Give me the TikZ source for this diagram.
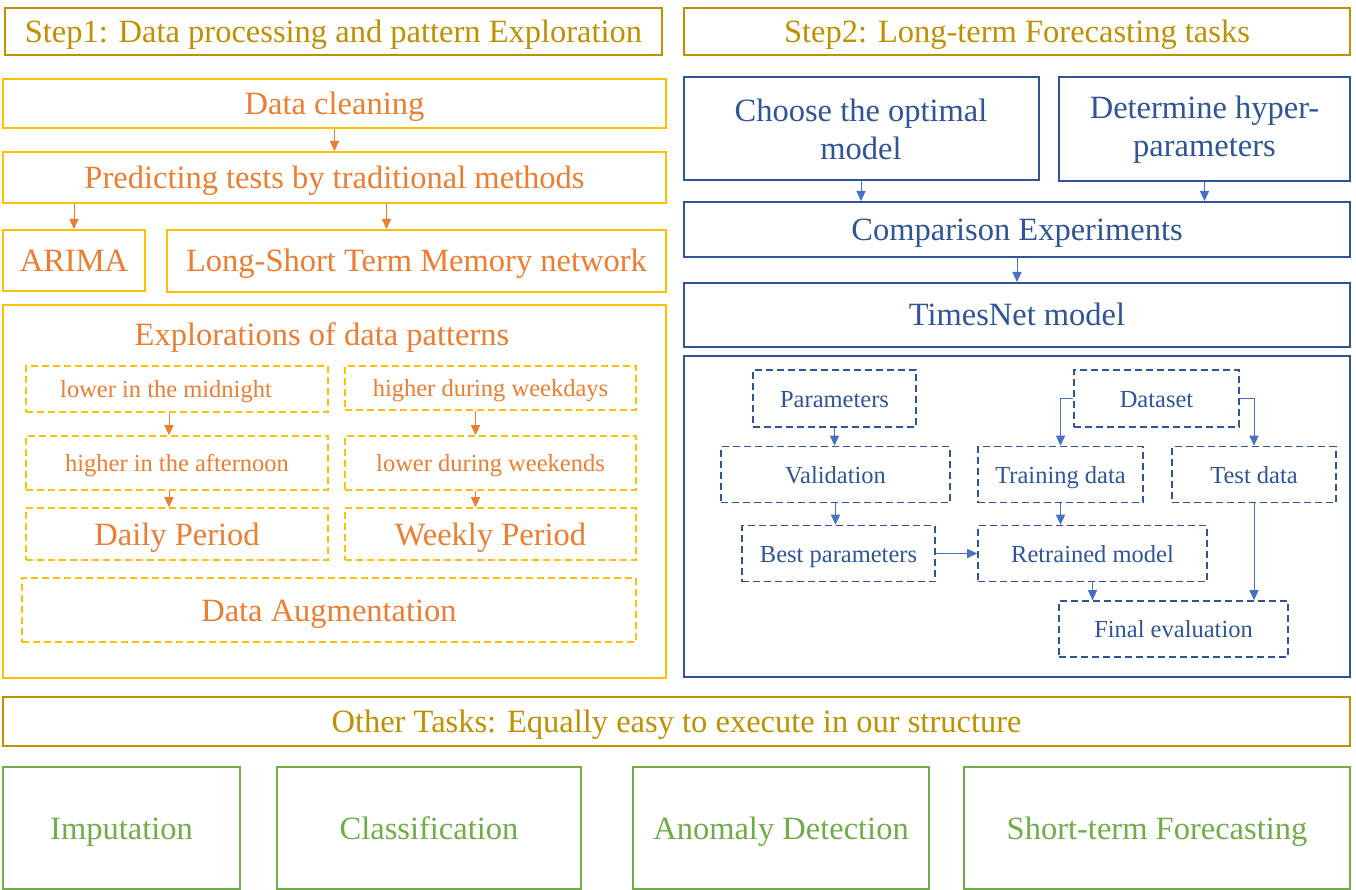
\documentclass[tikz,border=0pt]{standalone}
\usepackage{fontspec}
\setmainfont{Liberation Serif}
\usetikzlibrary{arrows.meta}
\definecolor{gold}{HTML}{BF9000}
\definecolor{orng}{HTML}{ED7D31}
\definecolor{yel}{HTML}{FFC000}
\definecolor{dblue}{HTML}{2F5597}
\definecolor{lblue}{HTML}{4472C4}
\definecolor{grn}{HTML}{70AD47}
\begin{document}
\begin{tikzpicture}[x=1pt,y=-1pt,
  bigfont/.style={font=\fontsize{32.5}{38}\selectfont},
  big/.style={bigfont, text height=28pt, text depth=6pt},
  small/.style={font=\fontsize{24.5}{30}\selectfont, text height=22pt, text depth=5pt},
  box/.style={draw, rectangle, line width=2pt, inner sep=0pt, align=center},
  titlebox/.style={box, draw=gold, text=gold, big},
  obox/.style={box, draw=yel, text=orng, big},
  odash/.style={box, draw=yel, text=orng, line width=1.6pt, dash pattern=on 7pt off 4pt},
  bbox/.style={box, draw=dblue, text=dblue, big},
  bbox2/.style={box, draw=dblue, text=dblue, bigfont},
  bdash/.style={box, draw=dblue, text=dblue, small, line width=1.6pt, dash pattern=on 7pt off 4pt},
  gbox/.style={box, draw=grn, text=grn, big},
  oarr/.style={draw=orng, line width=1pt, -{Triangle[length=10pt,width=9pt]}},
  barr/.style={draw=lblue, line width=1pt, -{Triangle[length=10pt,width=9pt]}},
]
\fill[white] (0,0) rectangle (1356,890);
\useasboundingbox (0,0) rectangle (1356,890);

% ---------- titles ----------
\node[titlebox, minimum width=657, minimum height=47] (t1) at (333.5,31.5) {Step1: Data processing and pattern Exploration};
\node[titlebox, minimum width=666, minimum height=47] (t2) at (1017,31.5) {Step2: Long-term Forecasting tasks};

% ---------- left column ----------
\node[obox, minimum width=663, minimum height=49] (clean) at (334.5,103.5) {Data cleaning};
\node[obox, minimum width=663, minimum height=51] (pred) at (334.5,177.5) {Predicting tests by traditional methods};
\node[obox, minimum width=142, minimum height=61] (arima) at (74,260.5) {ARIMA};
\node[obox, minimum width=499, minimum height=62] (lstm) at (416.5,261) {Long-Short Term Memory network};

\node[box, draw=yel, minimum width=663, minimum height=373] (explbox) at (334.5,491.5) {};
\node[text=orng, big, inner sep=0pt] (expltitle) at (322,334) {Explorations of data patterns};

\node[odash, small, minimum width=302, minimum height=46] (d1) at (177,389) {\hspace*{-22pt}lower in the midnight};
\node[odash, small, minimum width=291, minimum height=44] (d2) at (490.5,388) {higher during weekdays};
\node[odash, small, minimum width=302, minimum height=54] (d3) at (177,463) {higher in the afternoon};
\node[odash, small, minimum width=291, minimum height=54] (d4) at (490.5,463) {lower during weekends};
\node[odash, big, minimum width=302, minimum height=52] (d5) at (177,534) {Daily Period};
\node[odash, big, minimum width=291, minimum height=52] (d6) at (490.5,534) {Weekly Period};
\node[odash, big, minimum width=614, minimum height=64] (d7) at (329,610) {Data Augmentation};

\draw[oarr] (clean.south) -- (pred.north);
\draw[oarr] (arima.north |- pred.south) -- (arima.north);
\draw[oarr] ([xshift=-30pt]lstm.north |- pred.south) -- ([xshift=-30pt]lstm.north);
\draw[oarr] ([xshift=-8pt]d1.south) -- ([xshift=-8pt]d3.north);
\draw[oarr] ([xshift=-8pt]d3.south) -- ([xshift=-8pt]d5.north);
\draw[oarr] ([xshift=-15pt]d2.south) -- ([xshift=-15pt]d4.north);
\draw[oarr] ([xshift=-15pt]d4.south) -- ([xshift=-15pt]d6.north);

% ---------- right column ----------
\node[bbox2, minimum width=355, minimum height=103] (choose) at (861,129) {Choose the optimal\\model};
\node[bbox2, minimum width=291, minimum height=104] (hyper) at (1204.5,129.5) {Determine hyper-\\parameters};
\node[bbox, minimum width=666, minimum height=55] (comp) at (1017,229.5) {Comparison Experiments};
\node[bbox, minimum width=666, minimum height=64] (tnet) at (1017,315) {TimesNet model};
\node[box, draw=dblue, minimum width=666, minimum height=321] (panel) at (1017,516.5) {};

\draw[barr] (choose.south) -- (choose.south |- comp.north);
\draw[barr] (hyper.south) -- (hyper.south |- comp.north);
\draw[barr] (comp.south) -- (tnet.north);

\node[bdash, minimum width=163, minimum height=57] (par) at (834.5,398.5) {Parameters};
\node[bdash, minimum width=165, minimum height=57] (dset) at (1156.5,398.5) {Dataset};
\node[bdash, minimum width=229, minimum height=56] (valid) at (835.5,474.5) {Validation};
\node[bdash, minimum width=165, minimum height=56] (train) at (1060.5,474.5) {Training data};
\node[bdash, minimum width=164, minimum height=56] (test) at (1254,474.5) {Test data};
\node[bdash, minimum width=193, minimum height=56] (best) at (838.5,553.5) {Best parameters};
\node[bdash, minimum width=229, minimum height=56] (retr) at (1092.5,553.5) {Retrained model};
\node[bdash, minimum width=229, minimum height=56] (final) at (1173.5,629) {Final evaluation};

\draw[barr] (par.south) -- (par.south |- valid.north);
\draw[barr] (valid.south) -- (valid.south |- best.north);
\draw[barr] (dset.west) -| (train.north);
\draw[barr] (dset.east) -| (test.north);
\draw[barr] (train.south) -- (train.south |- retr.north);
\draw[barr] (best.east) -- (retr.west);
\draw[barr] (retr.south) -- (retr.south |- final.north);
\draw[barr] (test.south) -- (test.south |- final.north);

% ---------- bottom ----------
\node[titlebox, minimum width=1347, minimum height=49] (other) at (676.5,721.5) {Other Tasks: Equally easy to execute in our structure};
\node[gbox, minimum width=237, minimum height=122] (imp) at (121.5,828) {Imputation};
\node[gbox, minimum width=304, minimum height=122] (cls) at (429,828) {Classification};
\node[gbox, minimum width=296, minimum height=122] (anom) at (781,828) {Anomaly Detection};
\node[gbox, minimum width=386, minimum height=122] (short) at (1157,828) {Short-term Forecasting};
\end{tikzpicture}
\end{document}
